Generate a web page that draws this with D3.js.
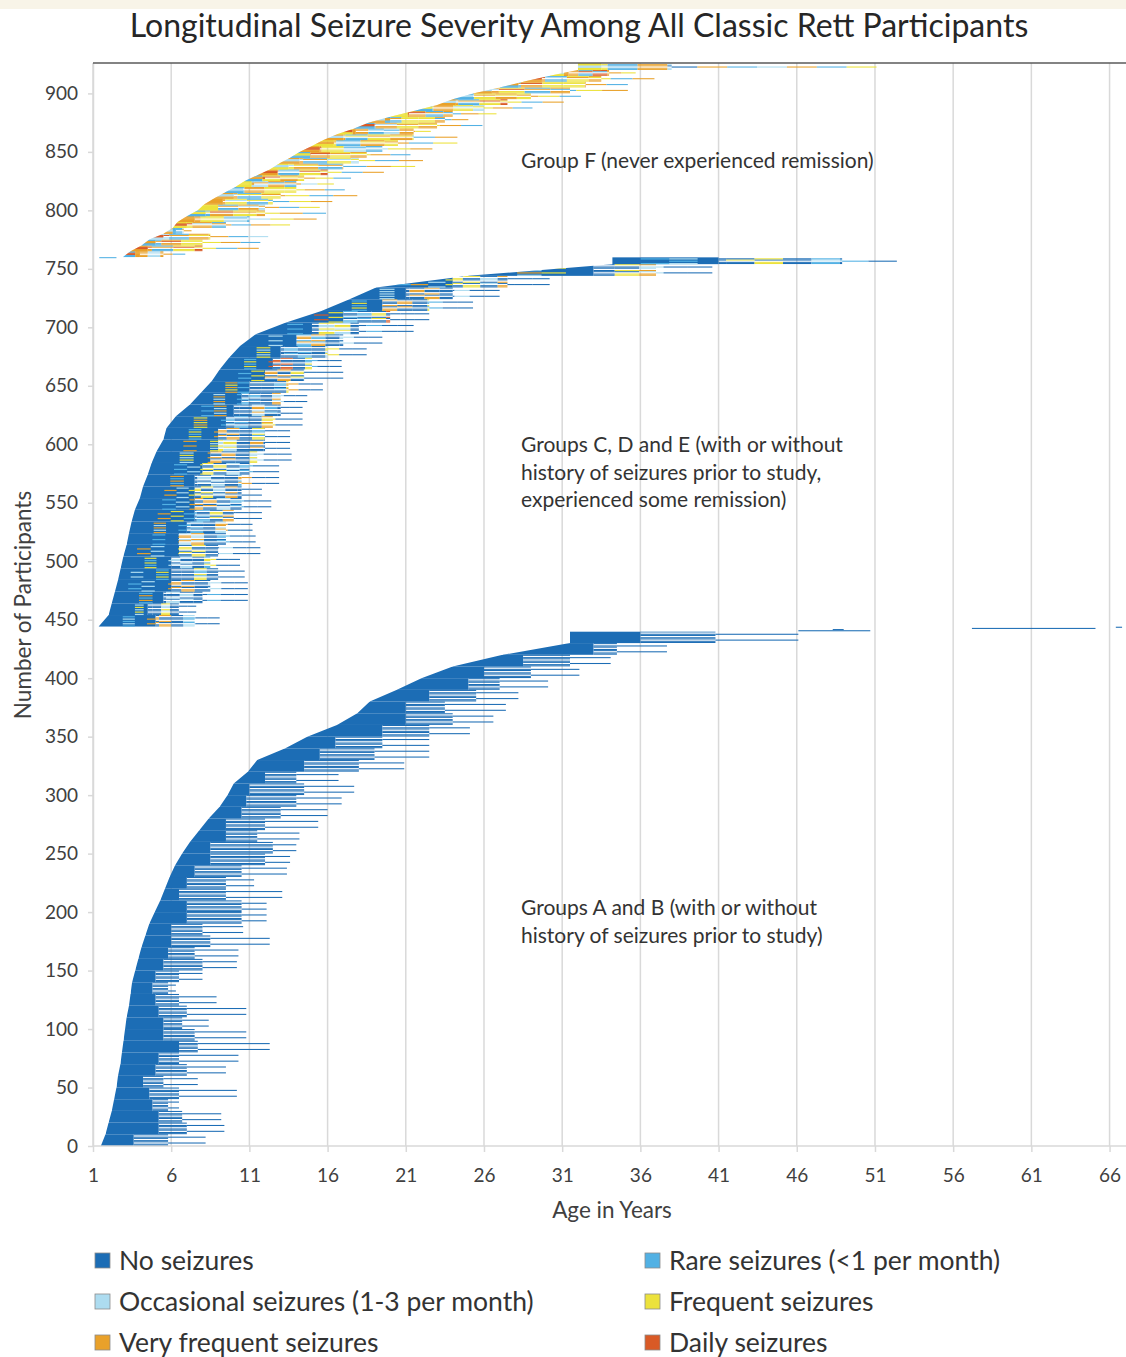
<!DOCTYPE html>
<html>
<head>
<meta charset="utf-8">
<script src="https://cdn.jsdelivr.net/npm/d3@7"></script>
<style>
  body { margin: 0; background: #fff; }
  svg { display: block; font-family: Lato, "Open Sans", sans-serif; }
</style>
</head>
<body>
<svg id="chart" width="1126" height="1357"></svg>
<script>
// severity categories, code = index
const severityLabels = ['No seizures', 'Rare seizures (<1 per month)', 'Occasional seizures (1-3 per month)',
  'Frequent seizures', 'Very frequent seizures', 'Daily seizures'];
const severityColors = ['#1c6db5', '#52b1e4', '#addcf0', '#ece23c', '#e9a12a', '#d95a26'];

const ageTicks = [1, 6, 11, 16, 21, 26, 31, 36, 41, 46, 51, 56, 61, 66];
const participantTicks = [0, 50, 100, 150, 200, 250, 300, 350, 400, 450, 500, 550, 600, 650, 700, 750, 800, 850, 900];

// Groups A and B: blocks of 10 participants (rows 0-439), ages in years
const abStart = [1.5, 1.8, 2.0, 2.2, 2.35, 2.5, 2.6, 2.75, 2.85, 2.95, 3.05, 3.15, 3.3, 3.4, 3.5, 3.7, 3.9, 4.1, 4.35, 4.6,
  4.95, 5.3, 5.6, 5.9, 6.25, 6.7, 7.2, 7.8, 8.4, 9.1, 9.6, 10.0, 10.9, 11.5, 13.3, 14.7, 16.6, 17.9, 18.7, 20.4,
  22.0, 24.0, 27.2, 31.5];
const abSolid = [3.6, 5.2, 5.2, 4.8, 4.6, 4.2, 5.0, 5.2, 6.5, 5.5, 5.5, 5.2, 5.0, 4.8, 5.0, 5.5, 5.8, 6.0, 6.0, 7.0,
  7.0, 6.5, 7.0, 7.5, 8.5, 8.5, 9.5, 9.5, 10.5, 10.8, 11.0, 12.0, 14.5, 15.5, 16.5, 19.5, 21.0, 21.0, 22.5, 25.0,
  26.0, 28.5, 33.0, 36.0];
const abMid = [5.8, 7.0, 6.7, 5.8, 6.5, 5.5, 7.0, 6.5, 7.7, 7.5, 6.7, 7.0, 6.5, 5.8, 6.5, 8.0, 7.5, 8.5, 8.0, 10.5,
  10.5, 9.5, 9.5, 10.5, 12.0, 12.5, 11.5, 12.0, 13.0, 14.0, 14.5, 14.0, 18.0, 19.0, 19.5, 22.5, 24.0, 23.5, 25.5, 27.0,
  29.0, 31.5, 34.5, 40.8];
const abMax = [8.2, 9.4, 9.2, 6.5, 10.2, 7.7, 9.5, 10.3, 12.3, 10.8, 8.4, 10.8, 8.9, 6.3, 8.0, 10.2, 10.3, 12.3, 10.6, 12.1,
  12.1, 13.1, 11.3, 13.4, 13.6, 14.0, 14.2, 15.4, 16.0, 16.9, 17.7, 16.7, 20.9, 22.5, 22.5, 25.1, 26.6, 27.4, 28.2, 30.1,
  32.1, 34.1, 37.7, 46.1];

// Groups C, D and E: blocks of 10 participants (rows 444-759)
const cdeStart = [1.35, 2.0, 2.2, 2.4, 2.6, 2.77, 2.94, 3.15, 3.3, 3.47, 3.68, 4.0, 4.2, 4.5, 4.75, 5.07,
  5.5, 5.7, 6.3, 7.2, 7.9, 8.6, 9.1, 9.7, 10.4, 11.4, 13.3, 15.6, 17.4, 19.1, 25.0, 34.2];
const cdeSolid = [5.0, 4.5, 5.5, 6.0, 6.0, 6.0, 6.5, 6.5, 7.0, 7.5, 7.5, 7.5, 7.5, 8.0, 8.5, 9.0,
  9.0, 9.5, 10.0, 10.5, 11.0, 12.0, 12.5, 13.0, 14.0, 15.0, 17.0, 19.5, 21.0, 24.0, 33.0, 41.0];
const cdeMid = [7.5, 6.5, 8.0, 8.5, 9.0, 8.5, 9.0, 9.5, 9.5, 10.0, 10.5, 10.5, 10.5, 11.0, 11.5, 12.0,
  12.0, 12.5, 13.0, 13.0, 13.5, 14.5, 15.0, 16.0, 17.0, 18.0, 20.0, 22.5, 24.0, 27.5, 37.0, 48.9];
const cdeMax = [9.1, 7.6, 10.9, 10.9, 10.7, 10.4, 11.7, 11.4, 11.2, 11.8, 12.4, 11.8, 12.9, 12.9, 13.7, 13.6,
  13.6, 14.4, 14.4, 14.7, 15.7, 17.0, 16.9, 18.5, 19.5, 21.5, 22.5, 25.3, 27.0, 30.2, 40.6, 52.4];
const cdeCodes = ['0010040200', '0002003000', '0010200400', '0020040010', '0001003020', '0030020100',
  '0020030040', '0010240000', '0040010200', '0003010400', '0010402000', '0002030400', '0040020100',
  '0010302000', '0020400300', '0040320000', '0010040300', '0030010400', '0014002000', '0020100400',
  '0041000300', '0003040100', '0010050300', '0030010200', '0020140000', '0010320000', '0003100500',
  '0010400300', '0020040200', '0002030410', '0020003400', '0120030100'];

// Group F: blocks of 5 participants (rows 760-925)
const fStart = [2.9, 3.4, 4.1, 4.6, 5.5, 6.1, 6.4, 7.0, 7.7, 8.1, 8.7, 9.4, 10.1, 10.7, 11.5, 12.3, 12.9,
  13.6, 14.2, 15.0, 15.7, 16.6, 17.7, 18.6, 20.0, 21.5, 23.0, 24.0, 25.3, 27.0, 28.5, 30.2, 32.0];
const fSolid = [4.0, 4.5, 5.0, 5.5, 6.3, 7.0, 7.5, 8.2, 9.0, 9.3, 10.0, 10.6, 11.3, 12.0, 12.8, 13.5, 14.2,
  14.9, 15.5, 16.4, 17.0, 17.8, 19.0, 20.0, 21.2, 22.7, 24.2, 25.3, 26.5, 28.2, 29.7, 31.4, 33.5];
const fMid = [5.5, 8.0, 8.0, 8.5, 6.8, 9.5, 11.0, 12.0, 12.0, 12.5, 13.0, 14.0, 14.0, 14.5, 16.0, 17.0, 18.0,
  18.5, 19.5, 20.5, 21.5, 21.5, 23.0, 23.5, 24.0, 26.0, 27.5, 29.0, 31.5, 32.5, 33.5, 34.0, 38.0];
const fMax = [6.9, 11.6, 11.7, 12.2, 7.3, 13.6, 15.3, 15.9, 15.5, 16.3, 17.9, 17.1, 16.4, 17.5, 19.6, 21.6, 22.1,
  21.3, 22.7, 24.3, 24.3, 22.6, 25.9, 25.0, 26.8, 29.1, 31.1, 32.2, 35.2, 35.2, 36.9, 35.7, 51.1];
const fCodes = ['14245', '413545', '143354', '214345', '412', '341425', '432134', '143453', '314243', '431324',
  '413432', '143342', '324143', '134354', '413525', '341432', '413242', '143453', '432135', '314324',
  '413432', '341245', '143425', '413342', '341453', '143243', '413542', '134342', '431452', '143354',
  '413425', '341542', '3142140412'];

// single participants drawn on their own: [row, start age, end age, severity]
const singleRows = [[440, 46.1, 50.7, 0], [441, 48.3, 49.0, 0], [442, 57.2, 65.1, 0], [443, 66.4, 66.8, 0],
  [759, 1.4, 2.5, 1]];

// back: colour under the dense part of a block (null = none)
const groups = [
  {first: 0, rows: 440, size: 10, start: abStart, solid: abSolid, mid: abMid, max: abMax, codes: null, back: 0},
  {first: 444, rows: 316, size: 10, start: cdeStart, solid: cdeSolid, mid: cdeMid, max: cdeMax, codes: cdeCodes, back: 0},
  {first: 760, rows: 166, size: 5, start: fStart, solid: fSolid, mid: fMid, max: fMax, codes: fCodes, back: null},
];

const svg = d3.select('#chart');
const textColor = '#404040';

const x = d3.scaleLinear().domain([1, 67]).range([93, 1125.2]);
const y = d3.scaleLinear().domain([0, 926]).range([1146, 63]);
const pitch = y(0) - y(1);

// beige strip at the top of the figure
svg.append('rect').attr('x', 0).attr('y', 0).attr('width', 1126).attr('height', 9).attr('fill', '#f8f4e8');

// vertical grid
svg.append('g').selectAll('line').data(ageTicks).join('line')
    .attr('x1', d => x(d)).attr('x2', d => x(d))
    .attr('y1', y(926)).attr('y2', y(0))
    .attr('stroke', '#d9d9d9').attr('stroke-width', 1.5);

const defs = svg.append('defs');

/**
* draw piece [a, b] of a timeline whose severity codes split [s, e] evenly.
*/
function drawBar(layer, a, b, yTop, h, s, e, codes, skip) {
  const n = codes.length;
  const w = (e - s) / n;
  for (let j = 0; j < n; j++) {
    if (+codes[j] === skip) continue;
    const lo = Math.max(a, s + j * w);
    const hi = Math.min(b, s + (j + 1) * w);
    if (hi <= lo) continue;
    layer.append('rect')
        .attr('x', x(lo))
        .attr('y', yTop)
        .attr('width', x(hi) - x(lo))
        .attr('height', h)
        .attr('fill', severityColors[+codes[j]]);
  }
}

groups.forEach(function(grp, gi) {
  const nBlocks = grp.start.length;
  const top = grp.first + grp.rows;

  // left envelope: straight runs between block starting ages
  const edge = grp.start.map((s, k) => [x(s), y(grp.first + k * grp.size)]);
  edge.push([x(grp.start[nBlocks - 1]), y(top)]);
  edge.push([1130, y(top)]);
  edge.push([1130, y(grp.first)]);
  defs.append('clipPath').attr('id', 'clip' + gi)
    .append('path').attr('d', d3.line()(edge) + 'Z');

  const layer = svg.append('g').attr('clip-path', 'url(#clip' + gi + ')');

  for (let k = 0; k < nBlocks; k++) {
    const r0 = grp.first + k * grp.size;
    const nr = k === nBlocks - 1 ? grp.rows - k * grp.size : grp.size;
    const code = grp.codes ? grp.codes[k] : '0';
    const rev = code.split('').reverse().join('');
    const st = grp.start[k], so = grp.solid[k], mi = grp.mid[k], mx = grp.max[k];
    if (grp.back !== null) {
      layer.append('rect')
          .attr('x', x(st)).attr('y', y(r0 + nr))
          .attr('width', x(so) - x(st)).attr('height', y(r0) - y(r0 + nr))
          .attr('fill', severityColors[grp.back]);
    }
    for (let i = 0; i < nr; i++) {
      const yt = y(r0 + i + 1);
      const c = i % 4 < 2 ? code : rev;
      // dense part: on a backed block only every other row carries its colours
      if (grp.back === null) drawBar(layer, st, so, yt - 0.15, pitch + 0.3, st, mx, c);
      else if (i % 2 === 0) drawBar(layer, st, so, yt, pitch, st, mx, c, grp.back);
      if (i % 3 !== 2) drawBar(layer, so, mi, yt, pitch * 0.9, st, mx, c);
      if (i % 5 === 2) drawBar(layer, mi, mx, yt, pitch * 0.9, st, mx, c);
    }
  }
});

const singles = svg.append('g');
singleRows.forEach(function(d) {
  drawBar(singles, d[1], d[2], y(d[0] + 1), pitch * 0.9, d[1], d[2], String(d[3]));
});

// axes
const xAxis = svg.append('g')
    .attr('transform', 'translate(0,' + y(0) + ')')
    .call(d3.axisBottom(x).tickValues(ageTicks).tickFormat(d3.format('d'))
      .tickSize(6).tickSizeOuter(0).tickPadding(17));
const yAxis = svg.append('g')
    .attr('transform', 'translate(' + x(1) + ',0)')
    .call(d3.axisLeft(y).tickValues(participantTicks).tickSize(5).tickSizeOuter(0).tickPadding(10));

[xAxis, yAxis].forEach(function(ax) {
  ax.select('.domain').attr('stroke', '#d9d9d9').attr('stroke-width', 1.5);
  ax.selectAll('.tick line').attr('stroke', '#d9d9d9').attr('stroke-width', 1.5);
  ax.selectAll('.tick text').attr('fill', textColor)
      .style('font-family', 'Lato, "Open Sans", sans-serif').style('font-size', '19px');
});
xAxis.select('.domain').attr('d', 'M' + x(1) + ',0H1126');

// top frame line
svg.append('line')
    .attr('x1', x(1)).attr('x2', 1126)
    .attr('y1', y(926)).attr('y2', y(926))
    .attr('stroke', '#5a5a5a').attr('stroke-width', 1.6);

// titles
svg.append('text')
    .attr('x', 579).attr('y', 37)
    .attr('text-anchor', 'middle')
    .attr('fill', '#262626')
    .style('font-size', '32px')
    .text('Longitudinal Seizure Severity Among All Classic Rett Participants');

svg.append('text')
    .attr('x', 612).attr('y', 1218)
    .attr('text-anchor', 'middle')
    .attr('fill', textColor)
    .style('font-size', '22.5px')
    .text('Age in Years');

svg.append('text')
    .attr('transform', 'translate(31,605) rotate(-90)')
    .attr('text-anchor', 'middle')
    .attr('fill', textColor)
    .style('font-size', '22.5px')
    .text('Number of Participants');

// group annotations
const notes = [
  {y: 168, lines: ['Group F (never experienced remission)']},
  {y: 452, lines: ['Groups C, D and E (with or without', 'history of seizures prior to study,',
    'experienced some remission)']},
  {y: 915, lines: ['Groups A and B (with or without', 'history of seizures prior to study)']},
];
notes.forEach(function(n) {
  n.lines.forEach(function(t, i) {
    svg.append('text')
        .attr('x', 521).attr('y', n.y + i * 27.5)
        .attr('fill', '#333')
        .style('font-size', '21px')
        .text(t);
  });
});

// legend, two columns
const legend = svg.append('g').selectAll('g').data(severityLabels).join('g')
    .attr('transform', (d, i) => 'translate(' + (i % 2 === 0 ? 95 : 645) + ',' + (1253 + Math.floor(i / 2) * 41) + ')');
legend.append('rect')
    .attr('width', 15).attr('height', 15)
    .attr('fill', (d, i) => severityColors[i])
    .attr('stroke', '#8c8c8c').attr('stroke-width', 0.8);
legend.append('text')
    .attr('x', 24).attr('y', 17)
    .attr('fill', '#333')
    .style('font-size', '26.5px')
    .text(d => d);
</script>
</body>
</html>
